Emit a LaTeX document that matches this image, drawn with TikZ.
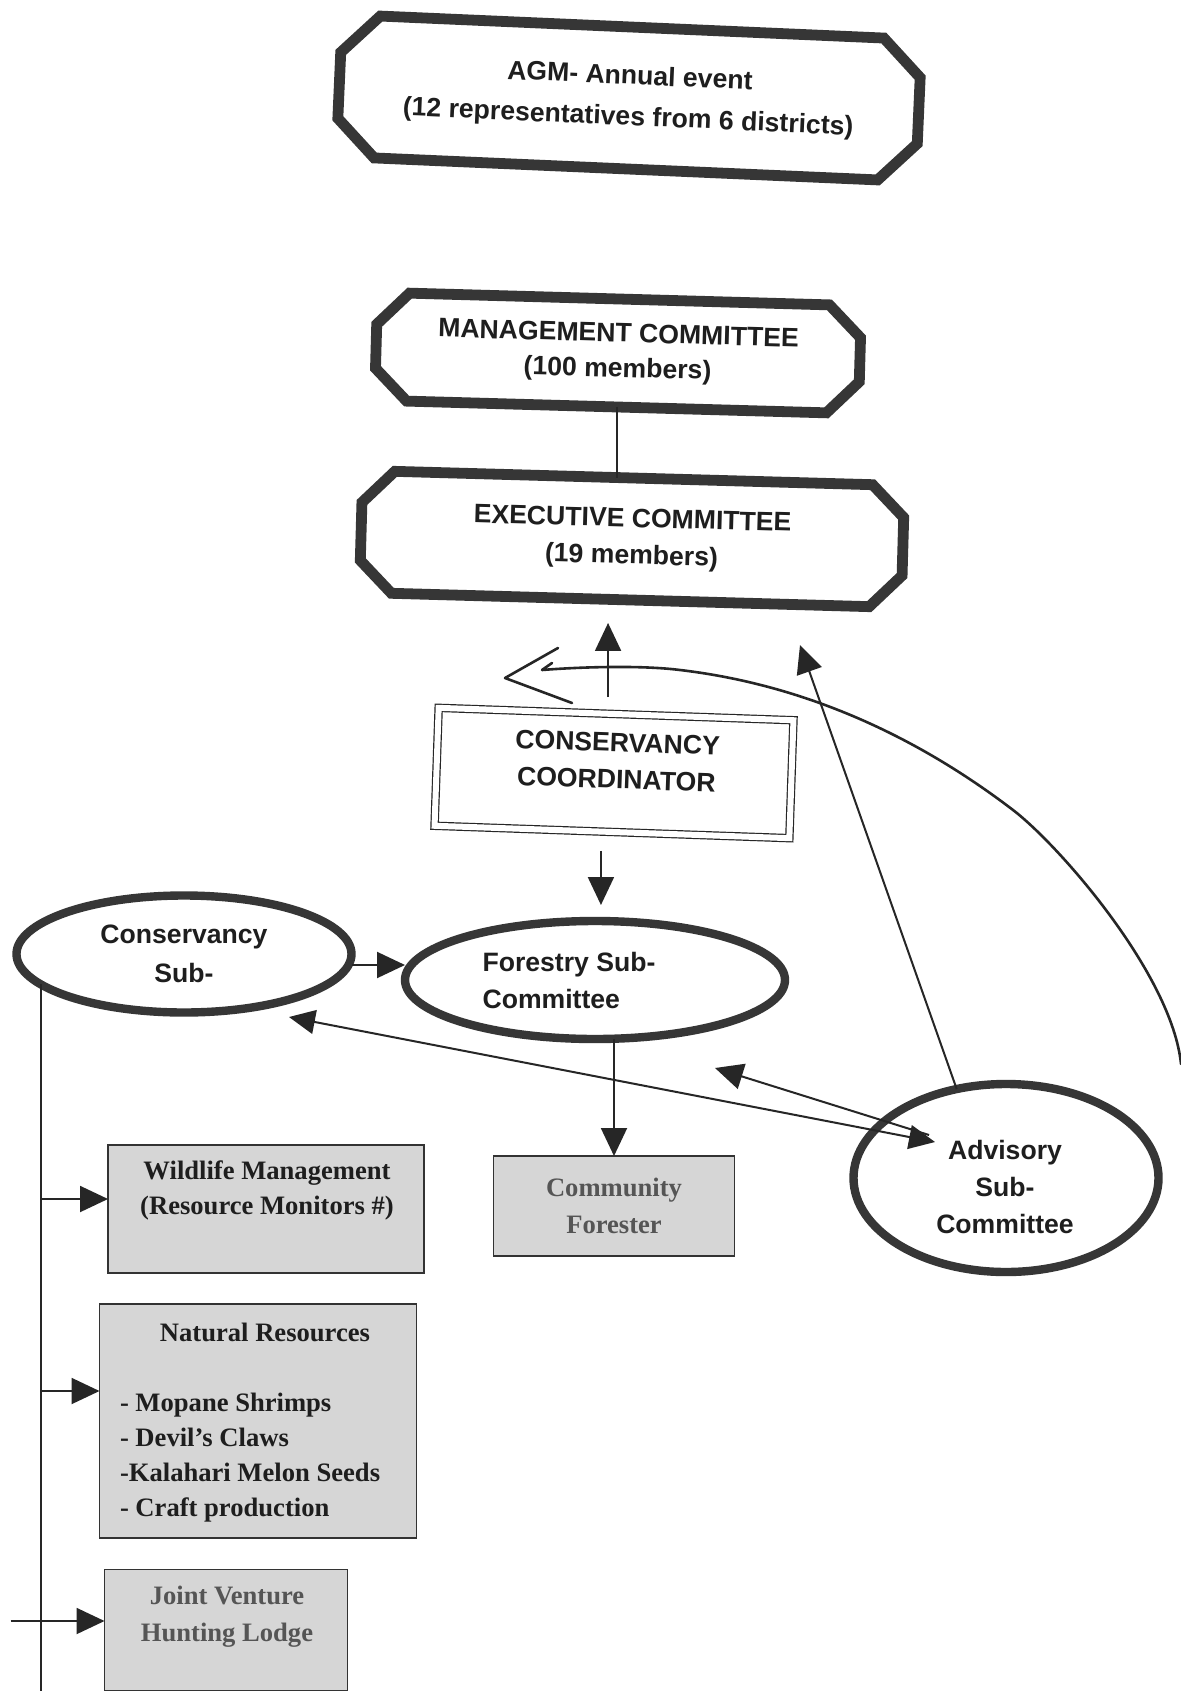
\documentclass[tikz,border=0pt]{standalone}
\usepackage{fontspec}
\setmainfont{Liberation Serif}
\setsansfont{Liberation Sans}
\usetikzlibrary{calc,shapes.geometric,arrows.meta}
\definecolor{bordergray}{HTML}{363636}
\definecolor{linegray}{HTML}{262626}
\definecolor{boxgray}{HTML}{D6D6D6}
\definecolor{txtdark}{HTML}{1E1E1E}
\definecolor{txtfade}{HTML}{555555}
\newcommand\octframe[2]{%
  \draw[octline] ($(#1.north west)!#2!(#1.north east)$) -- ($(#1.north east)!#2!(#1.north west)$)
   -- ($(#1.north east)!#2!(#1.south east)$) -- ($(#1.south east)!#2!(#1.north east)$)
   -- ($(#1.south east)!#2!(#1.south west)$) -- ($(#1.south west)!#2!(#1.south east)$)
   -- ($(#1.south west)!#2!(#1.north west)$) -- ($(#1.north west)!#2!(#1.south west)$) -- cycle;}
\tikzset{
  sanstxt/.style={font=\sffamily\bfseries\fontsize{13.3}{18.5}\selectfont, text=txtdark, align=center, inner sep=0pt, outer sep=0pt},
  serftxt/.style={font=\rmfamily\bfseries\fontsize{13.3}{17.5}\selectfont, text=txtdark, align=center, inner sep=0pt, outer sep=0pt},
  octnode/.style={sanstxt, draw=none, inner sep=0pt, outer sep=0pt},
  octline/.style={draw=bordergray, line width=5.4pt, line join=miter},
  coordbox/.style={draw=linegray, double=white, double distance=3pt, line width=0.6pt, inner sep=0pt, outer sep=0pt},
  ellbox/.style={ellipse, draw=bordergray, line width=4.2pt, inner sep=0pt, outer sep=0pt, sanstxt},
  graybox/.style={rectangle, draw=black!80, line width=0.9pt, fill=boxgray, inner sep=0pt, outer sep=0pt},
  conn/.style={draw=linegray, line width=1pt},
  arr/.style={conn, -{Triangle[length=14pt,width=13pt]}},
  arrboth/.style={conn, {Triangle[length=13pt,width=12pt]}-{Triangle[length=13pt,width=12pt]}},
  hand/.style={draw=linegray, line width=1.3pt, line cap=round, line join=round}
}
\begin{document}
\begin{tikzpicture}[x=0.5pt,y=-0.5pt]
\fill[white] (0,0) rectangle (1181,1695);
\useasboundingbox (0,0) rectangle (1181,1695);

% top octagons
\node[octnode, rotate=-2.5, minimum width=290pt, minimum height=71pt] (agm) at (629,98)
  {AGM- Annual event\\[2pt](12 representatives from 6 districts)};
\octframe{agm}{19pt}
\node[octnode, rotate=-1.6, minimum width=242pt, minimum height=54pt] (mgmt) at (618,353)
  {MANAGEMENT COMMITTEE\\[-1pt](100 members)};
\octframe{mgmt}{16pt}
\node[octnode, rotate=-1.6, minimum width=271pt, minimum height=61pt] (exec) at (632,539)
  {EXECUTIVE COMMITTEE\\(19 members)};
\octframe{exec}{16pt}

% coordinator
\node[coordbox, rotate=-2, minimum width=177.5pt, minimum height=59pt] (coord) at (614,773) {};
\node[sanstxt, rotate=-2] (coordtxt) at (617,761) {CONSERVANCY\\COORDINATOR};

% ellipses
\node[ellbox, minimum width=167.5pt, minimum height=58.5pt] (cons) at (184,954) {Conservancy\\[1pt]Sub-};
\node[ellbox, minimum width=190pt, minimum height=59pt] (forestry) at (595,980) {};
\node[sanstxt, align=left] (ftxt) at (569,980) {Forestry Sub-\\Committee};
\node[ellbox, minimum width=152.5pt, minimum height=94pt] (adv) at (1006,1178) {};
\node[sanstxt] (advtxt) at (1005,1187) {Advisory\\Sub-\\Committee};

% gray boxes
\node[graybox, minimum width=120.5pt, minimum height=50pt, serftxt, text=txtfade] (cf) at (614,1206)
  {Community\\[1pt]Forester};
\node[graybox, minimum width=158pt, minimum height=64pt] (wild) at (266,1209) {};
\node[serftxt] (wildtxt) at (267,1190) {Wildlife Management\\(Resource Monitors \#)};
\node[graybox, minimum width=158.5pt, minimum height=117pt] (natres) at (258,1421) {};
\node[serftxt] (nrtitle) at (265,1332) {Natural Resources};
\node[serftxt, align=left, anchor=west] (nritems) at (120,1458)
  {- Mopane Shrimps\\- Devil’s Claws\\-Kalahari Melon Seeds\\- Craft production};
\node[graybox, minimum width=121.5pt, minimum height=60.5pt] (jv) at (226,1630) {};
\node[serftxt, text=txtfade] (jvtxt) at (227,1617) {Joint Venture\\[1pt]Hunting Lodge};

% connectors
\draw[conn] (mgmt.south) -- (mgmt.south |- exec.north);
\coordinate (cu) at ($(coord.north)+(-8,0)$);
\draw[arr, shorten <=8.5pt, shorten >=11.5pt] (cu) -- (cu |- exec.south);
\coordinate (cd) at ($(coord.south)+(-11,0)$);
\draw[arr, shorten <=9.5pt, shorten >=8pt] (cd) -- (cd |- forestry.north);
\coordinate (ce) at ($(cons.east)+(0,11)$);
\draw[arr] (ce) -- (ce -| forestry.west);
\draw[arr] (cf.north |- forestry.south) -- (cf.north);

% trunk and branches
\draw[conn] (cons.192) -- (cons.192 |- jv.south);
\coordinate (wa) at ($(wild.west)+(0,-10)$);
\draw[arr] (cons.192 |- wa) -- (wa);
\coordinate (na) at ($(natres.west)+(0,-30)$);
\draw[arr] (cons.192 |- na) -- (na);
\coordinate (ja) at ($(jv.west)+(0,-9)$);
\coordinate (js) at ($(ja)+(-94,0)$);
\draw[arr] (js) -- (ja);

% advisory links
\coordinate (consend) at (289,1017);
\coordinate (advin) at (935,1142);
\draw[arrboth] (consend) -- (advin);
\coordinate (advout) at (929,1135);
\coordinate (forend) at (715,1068);
\draw[arr] (advout) -- (forend);
\coordinate (execend) at (800,645);
\draw[arr] (adv.119) -- (execend);

% hand drawn curve
\coordinate (cstart) at (1181,1064);
\coordinate (cend) at (542,670);
\draw[hand] (cstart) .. controls (1172,975) and (1060,846) .. (1013,810)
  .. controls (903,726) and (790,683) .. (680,670)
  .. controls (640,665) and (580,667) .. (cend) -- ++(10,-7);
\coordinate (vup) at (558,648);
\coordinate (vtip) at (505,678);
\coordinate (vlow) at (572,703);
\draw[hand] (vup) -- (vtip) -- (vlow);
\end{tikzpicture}
\end{document}
